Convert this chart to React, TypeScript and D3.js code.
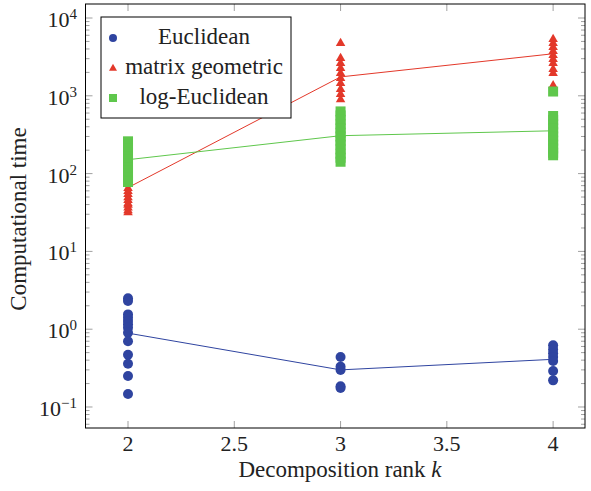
import React from "react";
import * as d3 from "d3";

const ranks = [2, 3, 4];
const seriesNames = ["Euclidean", "matrix geometric", "log-Euclidean"];

const euclideanPts: [number, number][] = [
  [2, 2.5], [2, 2.3], [2, 1.55], [2, 1.4], [2, 1.27], [2, 1.16], [2, 1.04], [2, 0.9], [2, 0.7], [2, 0.47], [2, 0.36], [2, 0.25], [2, 0.147],
  [3, 0.44], [3, 0.33], [3, 0.3], [3, 0.185], [3, 0.175],
  [4, 0.62], [4, 0.55], [4, 0.49], [4, 0.44], [4, 0.39], [4, 0.29], [4, 0.22],
];
const euclideanMean = [0.89, 0.3, 0.41];

const geometricPts: [number, number][] = [
  [2, 66], [2, 60], [2, 55], [2, 50], [2, 46], [2, 42], [2, 40], [2, 37], [2, 34], [2, 32],
  [3, 4800], [3, 3080], [3, 2660], [3, 2290], [3, 1980], [3, 1700], [3, 1470], [3, 1230], [3, 1060], [3, 910],
  [4, 5400], [4, 4800], [4, 4270], [4, 3790], [4, 3370], [4, 2990], [4, 2660], [4, 2220], [4, 1980], [4, 1380],
];
const geometricMean = [66, 1750, 3470];

const logEuclidPts: [number, number][] = [
  [2, 260], [2, 235], [2, 210], [2, 185], [2, 165], [2, 150], [2, 135], [2, 120], [2, 110], [2, 100], [2, 90], [2, 82], [2, 78],
  [3, 630], [3, 560], [3, 490], [3, 430], [3, 380], [3, 335], [3, 300], [3, 265], [3, 235], [3, 205], [3, 180], [3, 160], [3, 142],
  [4, 1135], [4, 550], [4, 490], [4, 430], [4, 380], [4, 340], [4, 300], [4, 265], [4, 235], [4, 210], [4, 185], [4, 172],
];
const logEuclidMean = [151, 307, 355];

const xTicks = [2, 2.5, 3, 3.5, 4];
const yExponents = [-1, 0, 1, 2, 3, 4];

const BLUE = "#2f44a0";
const RED = "#e3382a";
const GREEN = "#5fc74c";
const FONT = '"Liberation Serif"';

export default function App() {
  const left = 85.5, right = 585, top = 4, bottom = 428;
  const x = d3.scaleLinear().domain([1.8, 4.15]).range([left, right]);
  const y = d3.scaleLog().domain([Math.pow(10, -1.27), Math.pow(10, 4.18)]).range([bottom, top]);

  const line = d3.line<[number, number]>().x(d => x(d[0])).y(d => y(d[1]));
  const mk = (m: number[]) => ranks.map((r, i) => [r, m[i]] as [number, number]);

  const minor: number[] = [];
  for (let e = -2; e <= 4; e++) {
    for (let k = 2; k <= 9; k++) {
      const v = k * Math.pow(10, e);
      if (y(v) >= top && y(v) <= bottom) minor.push(v);
    }
  }

  const tri = (cx: number, cy: number, s = 5) =>
    `M${cx},${cy - s} L${cx + s * 0.95},${cy + s * 0.65} L${cx - s * 0.95},${cy + s * 0.65} Z`;

  const tickColor = "#a0a0a0";
  const ts: React.CSSProperties = { fontFamily: FONT };

  return (
    <svg width={591} height={491} style={{ position: "absolute", left: 0, top: 0, background: "#fff" }}>
      {minor.map((v, i) => (
        <g key={"mn" + i} stroke={tickColor} strokeWidth={1}>
          <line x1={left} x2={left + 4} y1={y(v)} y2={y(v)} />
          <line x1={right} x2={right - 4} y1={y(v)} y2={y(v)} />
        </g>
      ))}
      {yExponents.map(e => (
        <g key={"my" + e} stroke={tickColor} strokeWidth={1}>
          <line x1={left} x2={left + 7} y1={y(Math.pow(10, e))} y2={y(Math.pow(10, e))} />
          <line x1={right} x2={right - 7} y1={y(Math.pow(10, e))} y2={y(Math.pow(10, e))} />
        </g>
      ))}
      {xTicks.map(t => (
        <g key={"xt" + t} stroke={tickColor} strokeWidth={1}>
          <line x1={x(t)} x2={x(t)} y1={bottom} y2={bottom - 7} />
          <line x1={x(t)} x2={x(t)} y1={top} y2={top + 7} />
        </g>
      ))}

      <path d={line(mk(euclideanMean)) || ""} fill="none" stroke={BLUE} strokeWidth={1} />
      <path d={line(mk(geometricMean)) || ""} fill="none" stroke={RED} strokeWidth={1} />
      <path d={line(mk(logEuclidMean)) || ""} fill="none" stroke={GREEN} strokeWidth={1} />

      {euclideanPts.map((d, i) => (
        <circle key={"e" + i} cx={x(d[0])} cy={y(d[1])} r={5} fill={BLUE} />
      ))}
      {geometricPts.map((d, i) => (
        <path key={"g" + i} d={tri(x(d[0]), y(d[1]))} fill={RED} />
      ))}
      {logEuclidPts.map((d, i) => (
        <rect key={"l" + i} x={x(d[0]) - 5} y={y(d[1]) - 5} width={10} height={10} fill={GREEN} />
      ))}

      <rect x={left} y={top} width={right - left} height={bottom - top} fill="none" stroke="#000" strokeWidth={1} />

      {yExponents.map(e => (
        <text key={"yl" + e} x={77} y={y(Math.pow(10, e)) + 9} textAnchor="end" fontSize={22} fill="#222" style={ts}>
          10<tspan dy={-8} fontSize={15} style={ts}>{e < 0 ? "\u2212" + Math.abs(e) : e}</tspan>
        </text>
      ))}
      {xTicks.map(t => (
        <text key={"xl" + t} x={x(t)} y={451} textAnchor="middle" fontSize={22} fill="#222" style={ts}>
          {String(t)}
        </text>
      ))}

      <text x={340} y={477} textAnchor="middle" fontSize={23} fill="#222" style={ts}>
        Decomposition rank <tspan fontStyle="italic" style={ts}>k</tspan>
      </text>
      <text transform={`translate(26,219) rotate(-90)`} textAnchor="middle" fontSize={23} fill="#222" style={ts}>
        Computational time
      </text>

      <rect x={101} y={17} width={190} height={101} fill="#fff" stroke="#000" strokeWidth={1} />
      <circle cx={113} cy={38} r={4} fill={BLUE} />
      <path d={tri(113, 68, 4.2)} fill={RED} />
      <rect x={109} y={94} width={8} height={8} fill={GREEN} />
      {seriesNames.map((n, i) => (
        <text key={n} x={204} y={44 + i * 30} textAnchor="middle" fontSize={23} fill="#222" style={ts}>{n}</text>
      ))}
    </svg>
  );
}
